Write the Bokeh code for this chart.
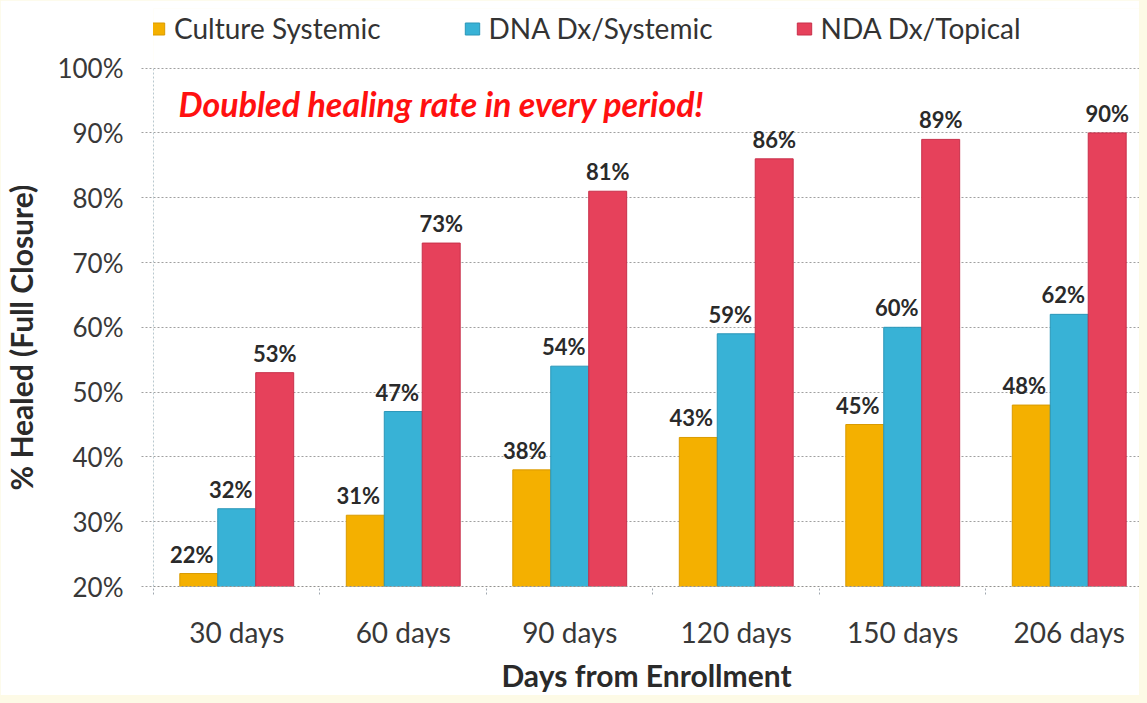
from bokeh.plotting import figure
from bokeh.models import (ColumnDataSource, Range1d, FixedTicker, PrintfTickFormatter,
                          Legend, LegendItem, LabelSet, Label)
from bokeh.core.properties import value
from bokeh.transform import dodge
from bokeh.embed import file_html
from bokeh.resources import INLINE

categories = ["30 days", "60 days", "90 days", "120 days", "150 days", "206 days"]
series_names = ["Culture Systemic", "DNA Dx/Systemic", "NDA Dx/Topical"]
culture = [22, 31, 38, 43, 45, 48]
dna = [32, 47, 54, 59, 60, 62]
nda = [53, 73, 81, 86, 89, 90]
y_ticks = [20, 30, 40, 50, 60, 70, 80, 90, 100]
annotation = "Doubled healing rate in every period!"
y_title = "% Healed (Full Closure)"
x_title = "Days from Enrollment"

colors = ["#f4b000", "#38b2d6", "#e6415b"]
line_colors = ["#d99a00", "#2a96b8", "#c8304a"]
FONT = "Lato"
BASE = 20
Y_AXIS_MAX = 100
Y_VIEW_MAX = 109.2   # extra head-room at top of the frame holds the legend

p = figure(width=1139, height=695, output_backend="svg", toolbar_location=None,
           x_range=Range1d(0, 5.922), y_range=Range1d(BASE, Y_VIEW_MAX),
           min_border_left=150, min_border_top=8, min_border_right=0, min_border_bottom=105)
p.background_fill_color = "white"
p.border_fill_color = "white"
p.outline_line_color = None

centers = [i + 0.5 for i in range(len(categories))]
bw = 0.228
offsets = [-bw, 0, bw]
label_dx = [-7, -6, 0]
renderers = []
for vals, col, lc, off, dx in zip([culture, dna, nda], colors, line_colors, offsets, label_dx):
    src = ColumnDataSource(dict(x=centers, top=vals, lab=[f"{v}%" for v in vals]))
    r = p.vbar(x=dodge("x", off), top="top", bottom=BASE, width=bw, source=src,
               fill_color=col, line_color=lc, line_width=1)
    renderers.append(r)
    ls = LabelSet(x=dodge("x", off), y="top", text="lab", source=src, x_offset=dx, y_offset=6,
                  text_align="center", text_baseline="bottom", text_font=value(FONT),
                  text_font_style="bold", text_font_size="22px", text_color="#2a2a2a")
    p.add_layout(ls)

# axes
p.xaxis.ticker = FixedTicker(ticks=centers, minor_ticks=list(range(len(categories) + 1)))
p.xaxis.major_label_overrides = {c: lab for c, lab in zip(centers, categories)}
p.xaxis.major_tick_out = 0
p.xaxis.major_tick_in = 0
p.xaxis.minor_tick_out = 8
p.xaxis.minor_tick_in = 0
p.xaxis.minor_tick_line_color = "#a0a8b0"
p.xaxis.minor_tick_line_dash = "2 2"
p.xaxis.axis_line_color = "#909090"
p.xaxis.axis_line_dash = "2 2"
p.xaxis.major_label_text_font = FONT
p.xaxis.major_label_text_font_size = "28px"
p.xaxis.major_label_text_color = "#383838"
p.xaxis.major_label_standoff = 20
p.xaxis.axis_label = x_title
p.xaxis.axis_label_text_font = FONT
p.xaxis.axis_label_text_font_size = "30px"
p.xaxis.axis_label_text_font_style = "bold"
p.xaxis.axis_label_text_color = "#2a2a2a"
p.xaxis.axis_label_standoff = 5

p.yaxis.ticker = FixedTicker(ticks=y_ticks, minor_ticks=[])
p.yaxis.bounds = (BASE, Y_AXIS_MAX)
p.yaxis.formatter = PrintfTickFormatter(format="%d%%")
p.yaxis.major_tick_out = 12
p.yaxis.major_tick_in = 0
p.yaxis.major_tick_line_color = "#a0a0a0"
p.yaxis.major_tick_line_dash = "2 2"
p.yaxis.axis_line_color = "#b8c8d0"
p.yaxis.axis_line_dash = "2 2"
p.yaxis.major_label_text_font = FONT
p.yaxis.major_label_text_font_size = "26px"
p.yaxis.major_label_text_color = "#383838"
p.yaxis.major_label_standoff = 18
# trailing no-break spaces push the rotated title down to the centre of the 20-100% span
p.yaxis.axis_label = y_title + "\u00a0" * 11
p.yaxis.axis_label_text_font = FONT
p.yaxis.axis_label_text_font_size = "30px"
p.yaxis.axis_label_text_font_style = "bold"
p.yaxis.axis_label_text_color = "#2a2a2a"
p.yaxis.axis_label_standoff = 15

p.xgrid.grid_line_color = None
p.ygrid.grid_line_color = "#a0a0a0"
p.ygrid.grid_line_dash = "2 2"

# annotation
p.add_layout(Label(x=0.15, y=94.6, text=annotation, text_font=FONT, text_font_size="34px",
                   text_font_style="bold italic", text_color="#ff1010", text_baseline="middle"))

legend = Legend(items=[LegendItem(label=n, renderers=[r]) for n, r in zip(series_names, renderers)],
                orientation="horizontal", location=(-5, 541), border_line_color=None,
                background_fill_alpha=0, glyph_width=18, glyph_height=15, label_standoff=8,
                spacing=82, padding=0, margin=0, label_text_font=FONT,
                label_text_font_size="28px", label_text_color="#333333")
p.add_layout(legend, "center")

html = file_html(p, INLINE)
html = html.replace("<body>", '<body style="background:#fdfae6;">')
open("out.html", "w").write(html)
